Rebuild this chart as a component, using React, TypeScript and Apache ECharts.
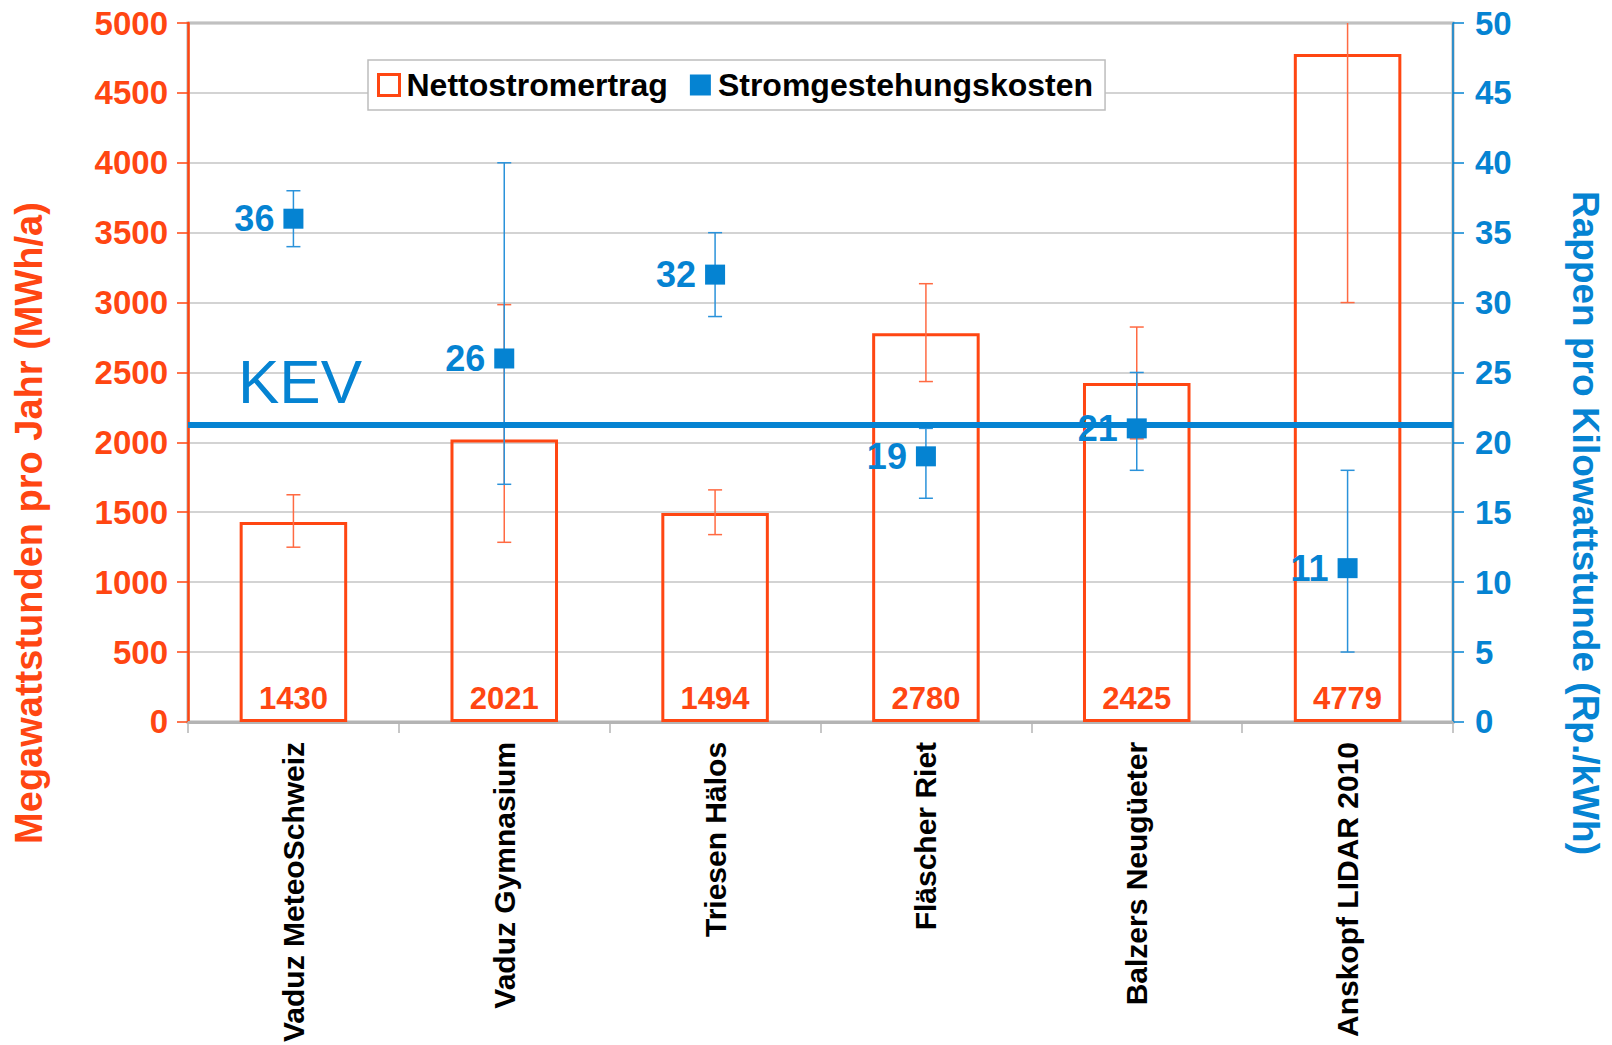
import React, { useEffect, useRef } from "react";
import * as echarts from "echarts";

const categories = [
  "Vaduz MeteoSchweiz",
  "Vaduz Gymnasium",
  "Triesen Hälos",
  "Fläscher Riet",
  "Balzers Neugüeter",
  "Anskopf LIDAR 2010",
];
const energy = [1430, 2021, 1494, 2780, 2425, 4779];
const energyLow = [1250, 1285, 1340, 2435, 2025, 3000];
const energyHigh = [1625, 2985, 1660, 3135, 2825, 6560];
const cost = [36, 26, 32, 19, 21, 11];
const costLow = [34, 17, 29, 16, 18, 5];
const costHigh = [38, 40, 35, 21, 25, 18];
const kev = 21.25;
const leftTicks = { min: 0, max: 5000, interval: 500 };
const rightTicks = { min: 0, max: 50, interval: 5 };
const leftTitle = "Megawattstunden pro Jahr (MWh/a)";
const rightTitle = "Rappen pro Kilowattstunde (Rp./kWh)";

const RED = "#FF4612";
const RED_ERR = "#FF6A42";
const BLUE = "#0583D2";
const BLUE_ERR = "#2A92DA";
const GRAY = "#B4B4B4";
const FONT = "'Liberation Sans', Arial, sans-serif";

function errorRender(color: string) {
  return (params: any, api: any) => {
    const x = api.value(0);
    const low = api.coord([x, api.value(1)]);
    const high = api.coord([x, api.value(2)]);
    const top = params.coordSys.y;
    const yHigh = Math.max(high[1], top);
    const hw = 7;
    const style = { stroke: color, lineWidth: 1.5 };
    const children: any[] = [
      { type: "line", shape: { x1: low[0], y1: low[1], x2: low[0], y2: yHigh }, style },
      { type: "line", shape: { x1: low[0] - hw, y1: low[1], x2: low[0] + hw, y2: low[1] }, style },
    ];
    if (high[1] >= top) {
      children.push({
        type: "line",
        shape: { x1: high[0] - hw, y1: high[1], x2: high[0] + hw, y2: high[1] },
        style,
      });
    }
    return { type: "group", children };
  };
}

export default function App() {
  const ref = useRef<HTMLDivElement>(null);
  useEffect(() => {
    document.body.style.margin = "0";
    const chart = echarts.init(ref.current!, undefined, { renderer: "svg" });
    chart.setOption({
      animation: false,
      backgroundColor: "#fff",
      textStyle: { fontFamily: FONT },
      grid: {
        left: 188,
        right: 159,
        top: 23,
        bottom: 322,
        show: true,
        borderColor: GRAY,
        borderWidth: 3,
      },
      legend: {
        left: 368,
        top: 60,
        orient: "horizontal",
        backgroundColor: "#fff",
        borderColor: "#BDBDBD",
        borderWidth: 1.5,
        padding: [9, 12, 9, 9],
        itemWidth: 21,
        itemHeight: 21,
        itemGap: 22,
        textStyle: {
          fontFamily: FONT,
          fontSize: 32,
          fontWeight: "bold",
          color: "#000",
          padding: [0, 0, 0, 2],
        },
        data: [
          {
            name: "Nettostromertrag",
            icon: "rect",
            itemStyle: { color: "#fff", borderColor: RED, borderWidth: 3 },
          },
          { name: "Stromgestehungskosten", icon: "rect", itemStyle: { color: BLUE, opacity: 1 } },
        ],
      },
      xAxis: {
        type: "category",
        data: categories,
        boundaryGap: true,
        axisLine: { show: true, lineStyle: { color: GRAY, width: 3 } },
        axisTick: { show: true, length: 11, lineStyle: { color: GRAY, width: 1.5 } },
        axisLabel: {
          rotate: 90,
          margin: 20,
          interval: 0,
          color: "#000",
          fontFamily: FONT,
          fontSize: 30,
          fontWeight: "bold",
        },
      },
      yAxis: [
        {
          type: "value",
          ...leftTicks,
          axisLine: { show: true, lineStyle: { color: RED, width: 2.5 } },
          axisTick: { show: true, length: 11, lineStyle: { color: RED, width: 1.5 } },
          axisLabel: {
            margin: 20,
            color: RED,
            fontFamily: FONT,
            fontSize: 33,
            fontWeight: "bold",
            formatter: (v: number) => String(v),
          },
          splitLine: { show: true, lineStyle: { color: "#C4C4C4", width: 1.5 } },
        },
        {
          type: "value",
          ...rightTicks,
          position: "right",
          axisLine: { show: true, lineStyle: { color: BLUE, width: 1.5 } },
          axisTick: { show: true, length: 11, lineStyle: { color: BLUE, width: 1.5 } },
          axisLabel: {
            margin: 22,
            color: BLUE,
            fontFamily: FONT,
            fontSize: 33,
            fontWeight: "bold",
            formatter: (v: number) => String(v),
          },
          splitLine: { show: false },
        },
      ],
      graphic: [
        {
          type: "text",
          left: 238,
          top: 350,
          z: 10,
          style: { text: "KEV", fill: BLUE, font: `62px ${FONT}` },
        },
        {
          type: "text",
          x: 29,
          y: 523,
          rotation: Math.PI / 2,
          z: 10,
          style: {
            text: leftTitle,
            fill: RED,
            font: `bold 38px ${FONT}`,
            align: "center",
            verticalAlign: "middle",
          },
        },
        {
          type: "text",
          x: 1585,
          y: 523,
          rotation: -Math.PI / 2,
          z: 10,
          style: {
            text: rightTitle,
            fill: BLUE,
            font: `bold 37px ${FONT}`,
            align: "center",
            verticalAlign: "middle",
          },
        },
      ],
      series: [
        {
          name: "Nettostromertrag",
          type: "bar",
          yAxisIndex: 0,
          data: energy,
          barCategoryGap: "49%",
          z: 2,
          itemStyle: { color: "rgba(255,255,255,0)", borderColor: RED, borderWidth: 3 },
          label: {
            show: true,
            position: "insideBottom",
            distance: 8,
            color: RED,
            fontFamily: FONT,
            fontSize: 31,
            fontWeight: "bold",
          },
        },
        {
          name: "energyErr",
          type: "custom",
          yAxisIndex: 0,
          z: 3,
          renderItem: errorRender(RED_ERR),
          encode: { x: 0, y: [1, 2] },
          data: categories.map((_, i) => [i, energyLow[i], energyHigh[i]]),
        },
        {
          name: "costErr",
          type: "custom",
          yAxisIndex: 1,
          z: 4,
          renderItem: errorRender(BLUE_ERR),
          encode: { x: 0, y: [1, 2] },
          data: categories.map((_, i) => [i, costLow[i], costHigh[i]]),
          markLine: {
            silent: true,
            symbol: ["none", "none"],
            label: { show: false },
            lineStyle: { color: BLUE, width: 6, type: "solid", opacity: 1 },
            data: [{ yAxis: kev }],
          },
        },
        {
          name: "Stromgestehungskosten",
          type: "scatter",
          yAxisIndex: 1,
          data: cost,
          z: 6,
          symbol: "rect",
          symbolSize: 20,
          itemStyle: { color: BLUE, opacity: 1 },
          label: {
            show: true,
            position: "left",
            distance: 9,
            color: BLUE,
            opacity: 1,
            fontFamily: FONT,
            fontSize: 36,
            fontWeight: "bold",
          },
        },
      ],
    });
    return () => chart.dispose();
  }, []);
  return <div ref={ref} style={{ width: 1612, height: 1045 }} />;
}
